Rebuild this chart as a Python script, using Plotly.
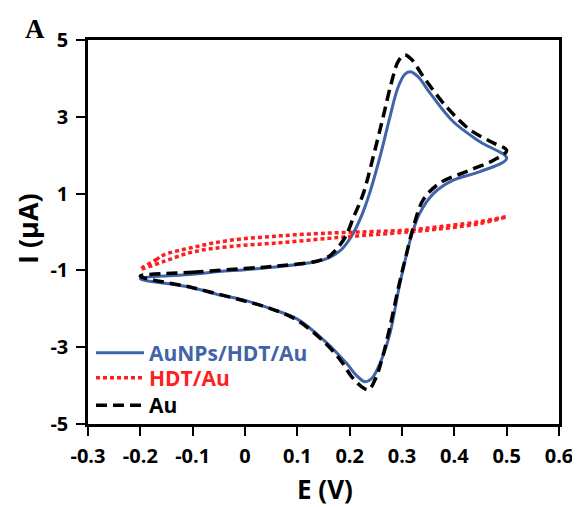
import plotly.graph_objects as go

# ---- data (E in V, I in µA); each curve: forward scan then reverse scan ----
aunps_E = [-0.2, -0.1, -0.05, 0.0, 0.067, 0.137, 0.162, 0.185, 0.204, 0.222, 0.239, 0.258, 0.277,
           0.292, 0.305, 0.315, 0.33, 0.354, 0.398, 0.449, 0.5,
           0.449, 0.398, 0.36, 0.334, 0.318, 0.296, 0.277, 0.258, 0.242, 0.229, 0.212, 0.194,
           0.15, 0.1, 0.05, 0.0, -0.048, -0.111, -0.2]
aunps_I = [-1.22, -1.10, -1.03, -0.98, -0.90, -0.77, -0.66, -0.45, -0.10, 0.40, 1.05, 1.96, 3.0,
           3.75, 4.1, 4.17, 4.05, 3.61, 2.87, 2.35, 1.92,
           1.57, 1.35, 1.0, 0.49, -0.1, -1.34, -2.64, -3.42, -3.82, -3.90, -3.72, -3.42,
           -2.81, -2.27, -2.0, -1.78, -1.64, -1.42, -1.22]

hdt_E = [-0.2, -0.17, -0.156, -0.1, -0.03, 0.067, 0.156, 0.194, 0.31, 0.385, 0.449, 0.5,
         0.449, 0.385, 0.31, 0.2, 0.156, 0.067, -0.03, -0.1, -0.156, -0.2]
hdt_I = [-0.97, -0.72, -0.60, -0.40, -0.22, -0.10, -0.03, -0.01, 0.05, 0.16, 0.27, 0.40,
         0.22, 0.10, 0.0, -0.12, -0.17, -0.28, -0.38, -0.52, -0.77, -0.97]

au_E = [-0.2, -0.1, 0.0, 0.067, 0.137, 0.16, 0.175, 0.192, 0.208, 0.226, 0.245, 0.264, 0.28,
        0.293, 0.305, 0.318, 0.341, 0.385, 0.43, 0.47, 0.5,
        0.475, 0.424, 0.373, 0.341, 0.322, 0.308, 0.294, 0.277, 0.262, 0.25, 0.236, 0.222,
        0.204, 0.182, 0.15, 0.1, 0.05, 0.0, -0.1, -0.2]
au_I = [-1.15, -1.05, -0.95, -0.88, -0.76, -0.64, -0.45, -0.12, 0.4, 1.0, 1.96, 3.0, 3.9,
        4.45, 4.61, 4.5, 4.04, 3.26, 2.66, 2.35, 2.12,
        1.87, 1.58, 1.28, 0.85, 0.14, -0.6, -1.4, -2.47, -3.3, -3.8, -4.11, -4.02,
        -3.77, -3.33, -2.85, -2.3, -2.0, -1.8, -1.45, -1.15]

series_names = ["AuNPs/HDT/Au", "HDT/Au", "Au"]
series_colors = ["#3F64A9", "#FF1E1E", "#000000"]

x_ticks = [-0.3, -0.2, -0.1, 0.0, 0.1, 0.2, 0.3, 0.4, 0.5, 0.6]
x_ticktext = ["-0.3", "-0.2", "-0.1", "0", "0.1", "0.2", "0.3", "0.4", "0.5", "0.6"]
y_ticks = [-5, -3, -1, 1, 3, 5]
y_ticktext = ["-5", "-3", "-1", "1", "3", "5"]

FONT = "Open Sans"

# The page body has an 8px margin, so the figure is drawn 8px in from the window.
OFF = 8
FIG_W, FIG_H = 580 - OFF, 507 - OFF
# plot-area geometry in window pixels
L, R, T, B = 88, 559, 40, 424
W, H = R - L, B - T


def px2paper(px, py):
    return (px - L) / W, (B - py) / H


legend_ids = ["legend", "legend2", "legend3"]
legend_rows_px = [353, 378, 405.5]

fig = go.Figure()
fig.add_trace(go.Scatter(
    x=aunps_E, y=aunps_I, mode="lines", line_shape="spline",
    line=dict(color=series_colors[0], width=3), legend=legend_ids[0],
    name=f"<span style='color:{series_colors[0]}'><b>{series_names[0]}</b></span>"))
fig.add_trace(go.Scatter(
    x=hdt_E, y=hdt_I, mode="lines", line_shape="spline",
    line=dict(color=series_colors[1], width=3.5, dash="4px,3px"), legend=legend_ids[1],
    name=f"<span style='color:{series_colors[1]}'><b>{series_names[1]}</b></span>"))
fig.add_trace(go.Scatter(
    x=au_E, y=au_I, mode="lines", line_shape="spline",
    line=dict(color=series_colors[2], width=3.5, dash="11px,6px"), legend=legend_ids[2],
    name=f"<span style='color:{series_colors[2]}'><b>{series_names[2]}</b></span>"))

axis_common = dict(
    showline=True, linecolor="black", linewidth=2.5, mirror=True,
    ticks="outside", ticklen=9, tickwidth=2, tickcolor="black",
    showgrid=False, zeroline=False, automargin=False,
    tickfont=dict(family=FONT, size=20, color="black", weight="bold"),
)

fig.update_xaxes(range=[-0.3, 0.6], tickvals=x_ticks, ticktext=x_ticktext,
                 ticklabelstandoff=3, **axis_common)
fig.update_yaxes(range=[-5, 5], tickvals=y_ticks, ticktext=y_ticktext,
                 ticklabelstandoff=4, **axis_common)

ax_x, ax_y = px2paper(325, 489)
ay_x, ay_y = px2paper(27, 229)
a_x, a_y = px2paper(35, 29)

legend_layout = {}
for lid, row in zip(legend_ids, legend_rows_px):
    lx, ly = px2paper(91, row)
    legend_layout[lid] = dict(x=lx, y=ly, xanchor="left", yanchor="middle",
                              bgcolor="rgba(0,0,0,0)", borderwidth=0,
                              font=dict(family=FONT, size=21),
                              itemwidth=48, tracegroupgap=0)

fig.update_layout(
    width=FIG_W, height=FIG_H,
    margin=dict(l=L - OFF, r=580 - R, t=T - OFF, b=507 - B, autoexpand=False),
    paper_bgcolor="white", plot_bgcolor="white",
    showlegend=True,
    annotations=[
        dict(text="<b>A</b>", x=a_x, y=a_y, xref="paper", yref="paper",
             xanchor="center", yanchor="middle", showarrow=False,
             font=dict(family="Liberation Serif", size=27, color="black")),
        dict(text="<b>E (V)</b>", x=ax_x, y=ax_y, xref="paper", yref="paper",
             xanchor="center", yanchor="middle", showarrow=False,
             font=dict(family=FONT, size=26, color="black")),
        dict(text="<b>I (µA)</b>", x=ay_x, y=ay_y, xref="paper", yref="paper",
             xanchor="center", yanchor="middle", showarrow=False, textangle=-90,
             font=dict(family=FONT, size=27, color="black")),
    ],
    **legend_layout,
)

fig.write_html("out.html")
